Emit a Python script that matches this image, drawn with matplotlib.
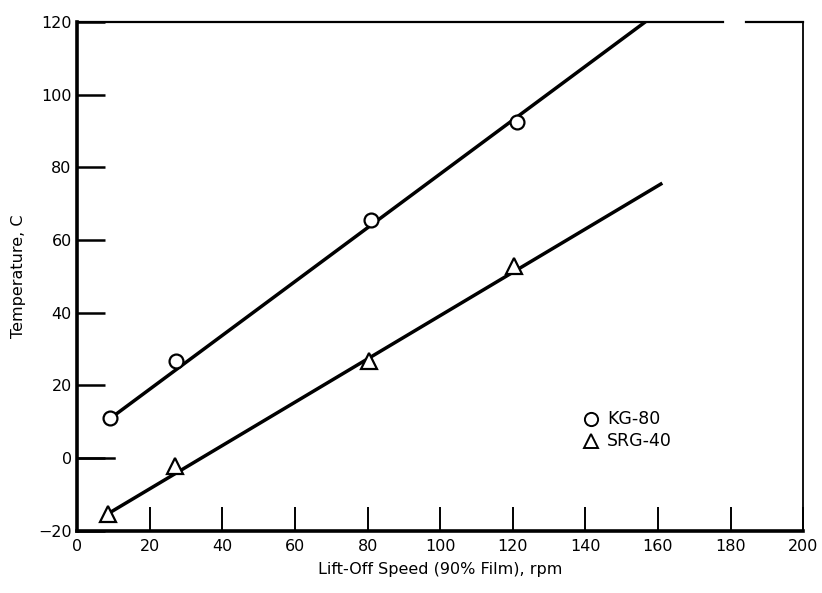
import matplotlib.pyplot as plt
import numpy as np

# measured points
kg80_speed = [9.1, 27.3, 80.8, 121.1]
kg80_temp = [10.9, 26.7, 65.6, 92.5]
srg40_speed = [8.6, 27.0, 80.3, 120.3]
srg40_temp = [-15.5, -2.2, 26.8, 52.9]

# fitted lines (end points)
kg80_fit_speed = [9.5, 156.5]
kg80_fit_temp = [11.2, 120.0]
srg40_fit_speed = [9.0, 160.8]
srg40_fit_temp = [-15.0, 75.4]

x_ticks = list(range(0, 201, 20))
y_ticks = list(range(-20, 121, 20))

plt.rcParams['font.family'] = ['DejaVu Sans']

fig = plt.figure(figsize=(8.22, 5.93), dpi=100)
ax = fig.add_axes([0.094, 0.105, 0.883, 0.858])

ax.plot(kg80_fit_speed, kg80_fit_temp, color='black', lw=2.5, zorder=2)
ax.plot(srg40_fit_speed, srg40_fit_temp, color='black', lw=2.5, zorder=2)
ax.plot(kg80_speed, kg80_temp, 'o', ms=10, mfc='white', mec='black', mew=1.6,
        ls='none', zorder=3)
ax.plot(srg40_speed, srg40_temp, '^', ms=11.5, mfc='white', mec='black', mew=1.6,
        ls='none', zorder=3)

ax.set_xlim(0, 200)
ax.set_ylim(-20, 120)
ax.set_xticks(x_ticks)
ax.set_yticks(y_ticks)
ax.tick_params(axis='x', direction='in', length=17, width=1.4, pad=6, labelsize=11.5)
ax.tick_params(axis='y', direction='in', length=20, width=1.8, pad=4, labelsize=11.5)

for s in ['left', 'bottom']:
    ax.spines[s].set_linewidth(2.6)
ax.spines['right'].set_linewidth(1.3)
ax.spines['top'].set_visible(False)

# top border drawn by hand, it has a small break near 180
ax.plot([0, 0.89], [1, 1], transform=ax.transAxes, color='black', lw=1.6, clip_on=False)
ax.plot([0.922, 1], [1, 1], transform=ax.transAxes, color='black', lw=1.6, clip_on=False)

# the zero tick is drawn longer
ax.plot([0, 0.05], [0, 0], transform=ax.get_yaxis_transform(), color='black', lw=1.8)

ax.set_xlabel('Lift-Off Speed (90% Film), rpm', fontsize=11.5, labelpad=6)
ax.set_ylabel('Temperature, C', fontsize=11.5, labelpad=9)

# legend
ax.plot([141.5], [10.7], 'o', ms=9.5, mfc='white', mec='black', mew=1.4)
ax.plot([141.5], [4.7], '^', ms=9.5, mfc='white', mec='black', mew=1.4)
ax.text(146, 10.7, 'KG-80', fontsize=12.5, va='center', ha='left')
ax.text(146, 4.7, 'SRG-40', fontsize=12.5, va='center', ha='left')

fig.savefig('out.png', dpi=100)
